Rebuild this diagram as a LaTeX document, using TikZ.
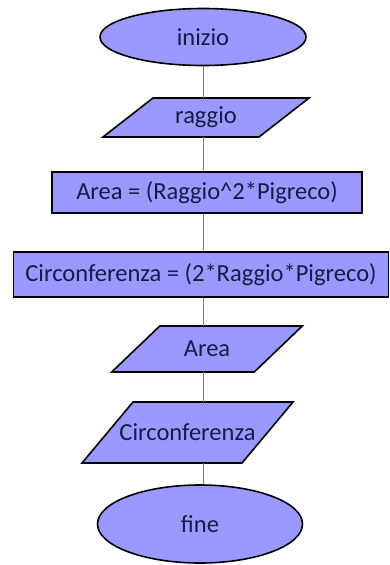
\documentclass[tikz,border=0pt]{standalone}
\usepackage{fontspec}
\setmainfont{Carlito}
\usetikzlibrary{shapes.geometric,calc}

\definecolor{boxfill}{HTML}{9999FF}
\definecolor{boxtext}{HTML}{1A1A48}

% input/output block: name, centre, middle width, height, half slant, text
\newcommand{\ionode}[6]{%
  \draw[base] ($(#2)+(-#3/2-#5,#4/2)$) -- ($(#2)+(#3/2-#5,#4/2)$)
    -- ($(#2)+(#3/2+#5,-#4/2)$) -- ($(#2)+(-#3/2+#5,-#4/2)$) -- cycle;
  \node[iotext, minimum width=#3pt, minimum height=#4pt] (#1) at (#2) {#6};}

\begin{document}
\begin{tikzpicture}[x=1pt, y=-1pt,
  font=\fontsize{24.5}{28}\selectfont,
  base/.style={draw=black, line width=1.6pt, fill=boxfill,
               text=boxtext, inner sep=0pt},
  term/.style={base, ellipse},
  proc/.style={base, rectangle},
  iotext/.style={text=boxtext, inner sep=0pt},
  link/.style={draw=gray, line width=0.8pt}]
  \useasboundingbox (0,0) rectangle (390,565);
  \node[term, minimum width=206pt, minimum height=57pt] (inizio)
    at (203,37) {inizio};
  \ionode{raggio}{206,117.5}{156}{39}{25}{raggio}
  \node[proc, minimum width=310pt, minimum height=41pt] (area)
    at (207,192.5) {Area = (Raggio\textasciicircum 2*Pigreco)};
  \node[proc, minimum width=375pt, minimum height=45pt] (circ)
    at (201,274.5) {Circonferenza = (2*Raggio*Pigreco)};
  \ionode{outarea}{207,349}{142.5}{46}{24}{Area}
  \ionode{outcirc}{187.5,432.5}{160}{61}{25.5}{Circonferenza}
  \node[term, minimum width=205pt, minimum height=78pt] (fine)
    at (200,524) {fine};
  % the flow line runs straight down between the blocks
  \draw[link] (inizio.south) -- (inizio.south |- raggio.north);
  \draw[link] (inizio.south |- raggio.south) -- (inizio.south |- area.north);
  \draw[link] (inizio.south |- area.south) -- (inizio.south |- circ.north);
  \draw[link] (inizio.south |- circ.south) -- (inizio.south |- outarea.north);
  \draw[link] (inizio.south |- outarea.south) -- (inizio.south |- outcirc.north);
  \draw[link] (inizio.south |- outcirc.south) -- (inizio.south |- fine.north);
\end{tikzpicture}
\end{document}
